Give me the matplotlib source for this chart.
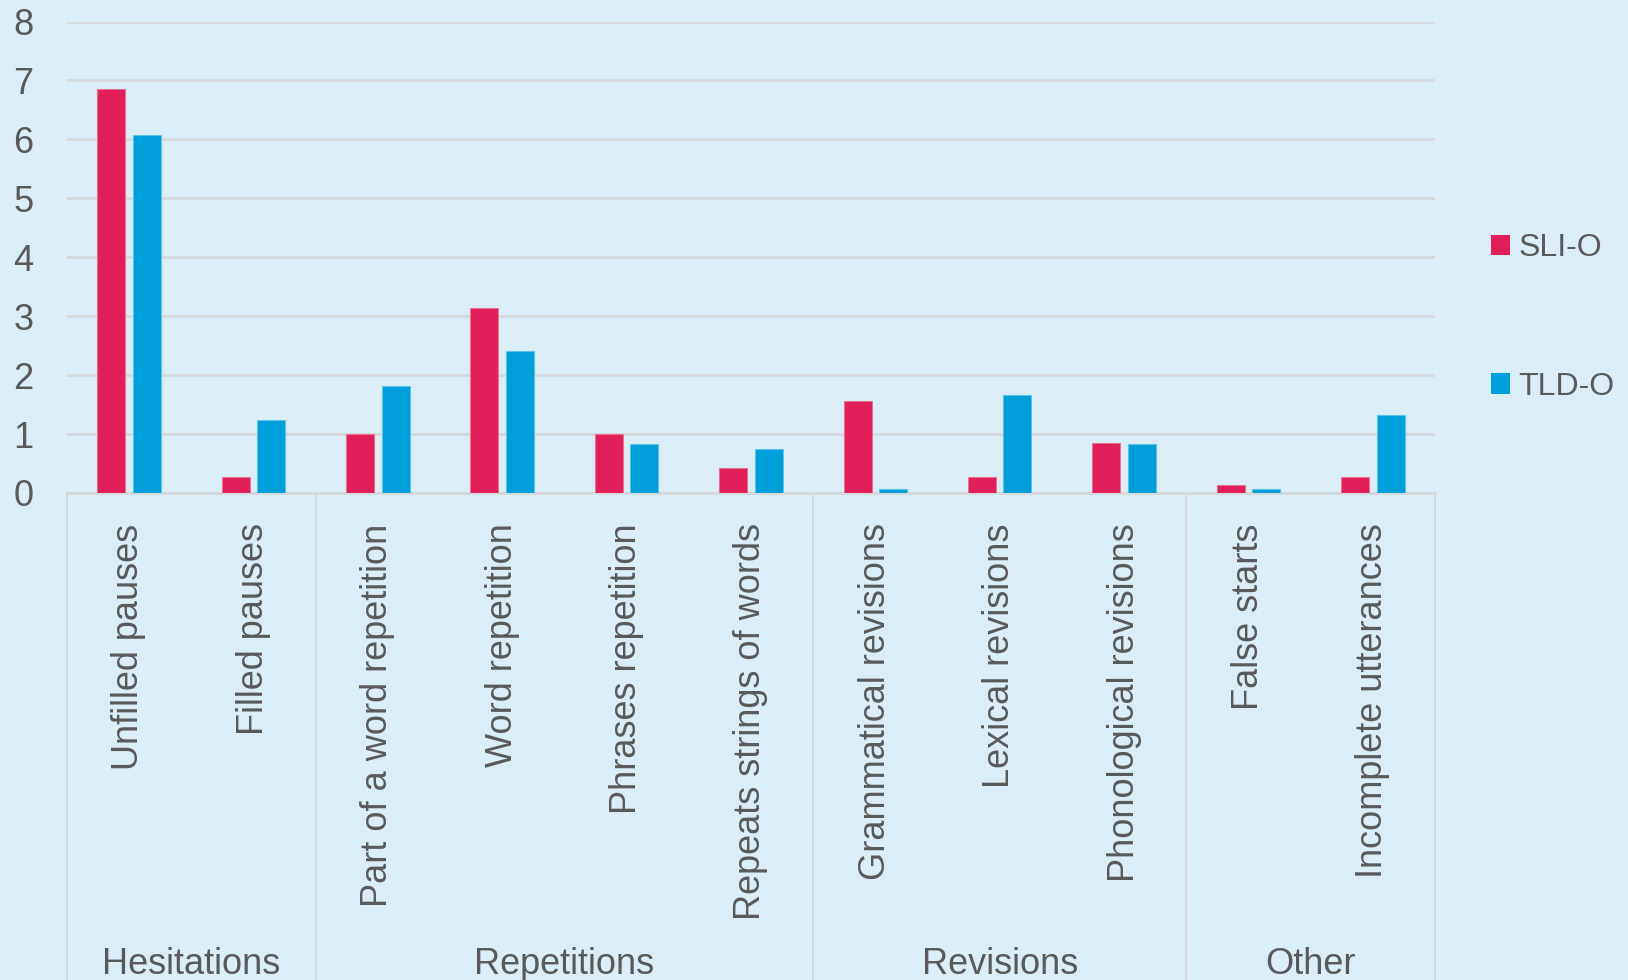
import numpy as np
import matplotlib
matplotlib.use('Agg')
import matplotlib.pyplot as plt
from matplotlib.patches import Patch

categories = ['Unfilled pauses', 'Filled pauses', 'Part of a word repetition',
              'Word repetition', 'Phrases repetition', 'Repeats strings of words',
              'Grammatical revisions', 'Lexical revisions', 'Phonological revisions',
              'False starts', 'Incomplete utterances']
groups = ['Hesitations', 'Repetitions', 'Revisions', 'Other']
group_sizes = [2, 4, 3, 2]
sli_o = [6.86, 0.27, 1.0, 3.14, 1.0, 0.42, 1.56, 0.27, 0.85, 0.14, 0.27]
tld_o = [6.08, 1.24, 1.82, 2.41, 0.83, 0.74, 0.07, 1.66, 0.83, 0.07, 1.32]

bg = '#DBEEF7'
txt = '#595959'
grid = '#D5D8DB'
plt.rcParams['font.family'] = ['Liberation Sans', 'DejaVu Sans']

fig = plt.figure(figsize=(16.28, 9.8), dpi=100, facecolor=bg)
ax = fig.add_axes([0.041, 0.497, 0.8405, 0.481], facecolor=bg)

x = np.arange(len(categories))
w = 0.225
ax.bar(x - 0.143, sli_o, w, color='#E01F5A', edgecolor='#E8718F', linewidth=0.8, label='SLI-O', zorder=3)
ax.bar(x + 0.143, tld_o, w, color='#009FD9', edgecolor='#5CC3EA', linewidth=0.8, label='TLD-O', zorder=3)

ax.set_xlim(-0.5, len(categories) - 0.5)
ax.set_ylim(0, 8)
ax.set_yticks(range(0, 9))
ax.yaxis.grid(True, color=grid, linewidth=2, zorder=0)
for s in ['top', 'right', 'left']:
    ax.spines[s].set_visible(False)
ax.spines['bottom'].set_color(grid)
ax.spines['bottom'].set_linewidth(2)
ax.tick_params(axis='y', length=0, pad=24, labelsize=26, labelcolor=txt)
ax.set_xticks(x)
ax.set_xticklabels(categories, rotation=90, fontsize=26, color=txt)
ax.tick_params(axis='x', length=0, pad=22)

# group separators and labels
tr = ax.get_xaxis_transform()
edges = np.concatenate([[0], np.cumsum(group_sizes)]) - 0.5
for e in edges:
    ax.plot([e, e], [0, -1.1], color=grid, linewidth=1.5, transform=tr, clip_on=False)
for i, g in enumerate(groups):
    c = (edges[i] + edges[i + 1]) / 2
    ax.text(c, -1.0206, g, transform=tr, ha='center', va='baseline', fontsize=26, color=txt)

h = [Patch(facecolor='#E01F5A'), Patch(facecolor='#009FD9')]
leg = ax.legend(h, ['SLI-O', 'TLD-O'], loc='center left', bbox_to_anchor=(1.02, 0.372),
                frameon=False, fontsize=23, labelcolor=txt, handlelength=0.6, handleheight=0.6,
                handletextpad=0.25, labelspacing=3.4)

fig.savefig('out.png', dpi=100, facecolor=bg)
